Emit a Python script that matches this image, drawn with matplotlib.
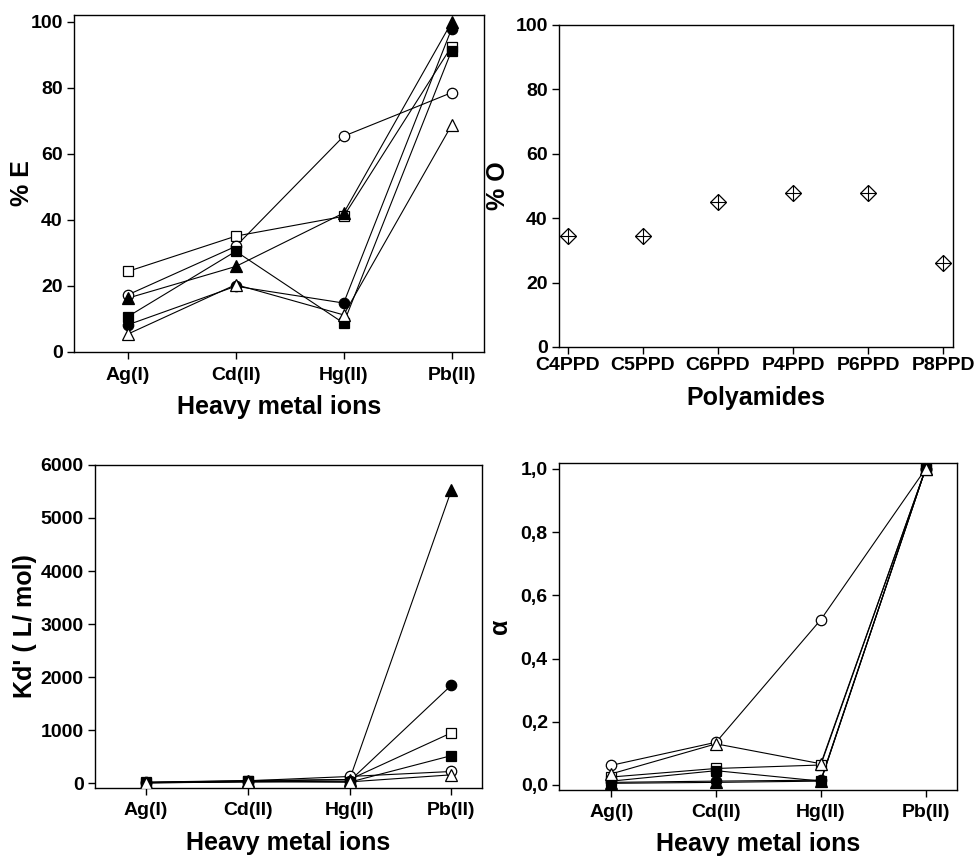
import numpy as np
import matplotlib
matplotlib.use("Agg")
import matplotlib.pyplot as plt

plt.rcParams['font.family'] = ['Liberation Sans', 'DejaVu Sans']
plt.rcParams['font.weight'] = 'bold'

# Data
ions = ["Ag(I)", "Cd(II)", "Hg(II)", "Pb(II)"]
polyamides = ["C4PPD", "C5PPD", "C6PPD", "P4PPD", "P6PPD", "P8PPD"]

# % E per series (open square, open circle, filled triangle, filled square, filled circle, open triangle)
extOpenSquare = [24.3, 35.0, 41.0, 92.5]
extOpenCircle = [17.2, 31.9, 65.3, 78.5]
extFilledTriangle = [16.2, 25.8, 42.0, 99.8]
extFilledSquare = [10.6, 30.4, 8.6, 91.2]
extFilledCircle = [8.1, 19.8, 14.7, 97.8]
extOpenTriangle = [5.3, 20.3, 11.1, 68.6]

# % O per polyamide
pctO = [34.5, 34.5, 45.1, 47.9, 47.9, 26.2]

# Kd' (L/mol)
kdOpenSquare = [20, 50, 70, 950]
kdOpenCircle = [15, 45, 127, 221]
kdFilledTriangle = [10, 35, 70, 5525]
kdFilledSquare = [12, 40, 20, 520]
kdFilledCircle = [8, 25, 40, 1848]
kdOpenTriangle = [5, 25, 25, 158]

# alpha
alOpenSquare = [0.025, 0.052, 0.063, 1.0]
alOpenCircle = [0.062, 0.135, 0.523, 1.0]
alFilledTriangle = [0.005, 0.008, 0.012, 1.0]
alFilledSquare = [0.012, 0.045, 0.012, 1.0]
alFilledCircle = [0.008, 0.012, 0.015, 1.0]
alOpenTriangle = [0.035, 0.13, 0.067, 1.0]

# marker styles: (marker, facecolor, size)
styles = [('s', 'white', 7), ('o', 'white', 7.5), ('^', 'black', 8),
          ('s', 'black', 6.5), ('o', 'black', 7.5), ('^', 'white', 8.5)]

TICK_SIZE = 14
LABEL_SIZE = 18


def styleAxes(ax, ylabelX, xlabelY, xpad=3):
    for sp in ax.spines.values():
        sp.set_linewidth(1.0)
    ax.tick_params(direction='out', length=5, width=1, labelsize=TICK_SIZE, pad=3)
    ax.tick_params(axis='x', pad=xpad)
    for lab in ax.get_xticklabels() + ax.get_yticklabels():
        lab.set_fontweight('bold')
    # label positions in axes fraction
    ax.yaxis.set_label_coords(ylabelX, 0.5)
    ax.yaxis.label.set_va('center')
    ax.xaxis.set_label_coords(0.5, xlabelY)
    ax.xaxis.label.set_va('center')


def drawSeries(ax, seriesList):
    x = np.arange(len(ions))
    for values in seriesList:
        ax.plot(x, values, color='black', linewidth=0.8, zorder=2)
    for values, (m, fc, ms) in zip(seriesList, styles):
        ax.plot(x, values, linestyle='none', marker=m, markersize=ms,
                markerfacecolor=fc, markeredgecolor='black',
                markeredgewidth=0.9, zorder=3)
    ax.set_xticks(x)
    ax.set_xticklabels(ions)
    ax.set_xlim(-0.5, 3.3)


fig = plt.figure(figsize=(9.76, 8.58), dpi=100)

# top left: % E
ax1 = fig.add_axes([0.0758, 0.5903, 0.420, 0.392])
drawSeries(ax1, [extOpenSquare, extOpenCircle, extFilledTriangle,
                 extFilledSquare, extFilledCircle, extOpenTriangle])
ax1.set_ylim(0, 102)
ax1.set_yticks([0, 20, 40, 60, 80, 100])
ax1.set_ylabel("% E", fontsize=LABEL_SIZE, fontweight='bold')
ax1.set_xlabel("Heavy metal ions", fontsize=LABEL_SIZE, fontweight='bold')
styleAxes(ax1, -0.127, -0.166, xpad=6)

# top right: % O
ax2 = fig.add_axes([0.5727, 0.5956, 0.4037, 0.3753])
xp = np.arange(len(polyamides))
ax2.plot(xp, pctO, linestyle='none', marker='D', markersize=8.5,
         markerfacecolor='white', markeredgecolor='black', markeredgewidth=0.9)
ax2.plot(xp, pctO, linestyle='none', marker='+', markersize=11,
         markeredgecolor='black', markeredgewidth=0.8)
ax2.set_xticks(xp)
ax2.set_xticklabels(polyamides)
ax2.set_xlim(-0.12, 5.13)
ax2.set_ylim(0, 100)
ax2.set_yticks([0, 20, 40, 60, 80, 100])
ax2.set_ylabel("% O", fontsize=LABEL_SIZE, fontweight='bold')
ax2.set_xlabel("Polyamides", fontsize=LABEL_SIZE, fontweight='bold')
styleAxes(ax2, -0.155, -0.158, xpad=2)

# bottom left: Kd'
ax3 = fig.add_axes([0.0973, 0.0816, 0.3965, 0.3765])
drawSeries(ax3, [kdOpenSquare, kdOpenCircle, kdFilledTriangle,
                 kdFilledSquare, kdFilledCircle, kdOpenTriangle])
ax3.set_ylim(-90, 6000)
ax3.set_yticks([0, 1000, 2000, 3000, 4000, 5000, 6000])
ax3.set_ylabel("Kd' ( L/ mol)", fontsize=LABEL_SIZE, fontweight='bold')
ax3.set_xlabel("Heavy metal ions", fontsize=LABEL_SIZE, fontweight='bold')
styleAxes(ax3, -0.18, -0.170, xpad=5)

# bottom right: alpha
ax4 = fig.add_axes([0.5727, 0.0793, 0.4078, 0.3811])
drawSeries(ax4, [alOpenSquare, alOpenCircle, alFilledTriangle,
                 alFilledSquare, alFilledCircle, alOpenTriangle])
ax4.set_ylim(-0.016, 1.019)
ax4.set_yticks([0, 0.2, 0.4, 0.6, 0.8, 1.0])
ax4.set_yticklabels(["0,0", "0,2", "0,4", "0,6", "0,8", "1,0"])
ax4.set_ylabel("α", fontsize=LABEL_SIZE, fontweight='bold')
ax4.set_xlabel("Heavy metal ions", fontsize=LABEL_SIZE, fontweight='bold')
styleAxes(ax4, -0.148, -0.166, xpad=5)

fig.savefig("out.png", dpi=100)
